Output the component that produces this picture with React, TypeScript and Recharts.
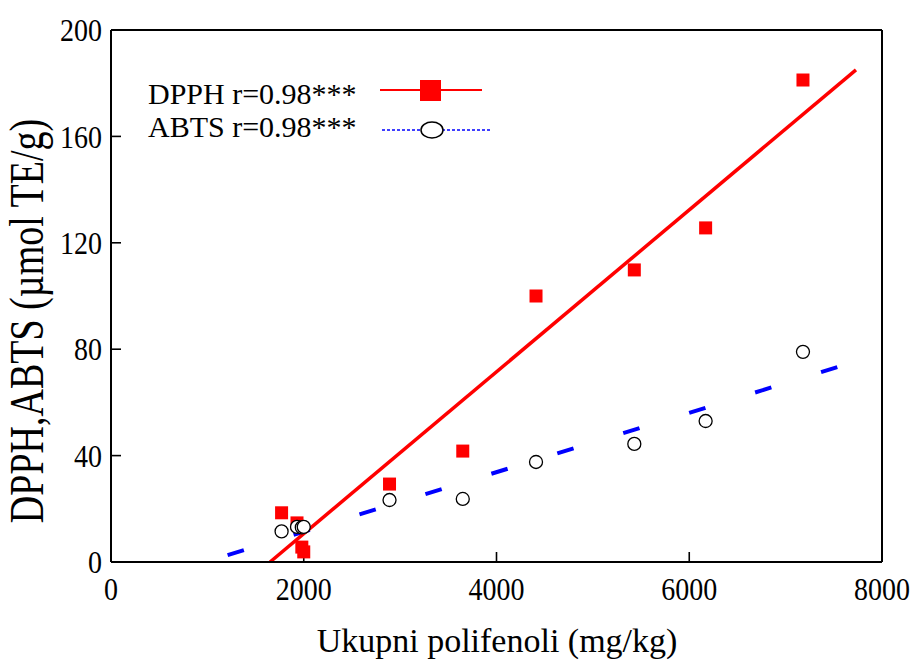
import { ComposedChart, Scatter, Line, XAxis, YAxis } from "recharts";

// sample values
const sampleX = [1770, 1930, 1980, 2000, 2890, 3650, 4410, 5430, 6170, 7180];
const dpphY = [18.5, 14.7, 5.6, 3.8, 29.3, 41.7, 100, 109.8, 125.6, 181.2];
const abtsY = [11.5, 13.2, 13.0, 13.2, 23.3, 23.7, 37.6, 44.4, 53.0, 79.0];

// regression line ends
const dpphFitX = [1650, 7730];
const dpphFitY = [0, 185];
const abtsFitX = [1210, 7540];
const abtsFitY = [2.6, 73.3];

const xMajor = [0, 2000, 4000, 6000, 8000];
const xMinor = [500, 1000, 1500, 2500, 3000, 3500, 4500, 5000, 5500, 6500, 7000, 7500];
const yMajor = [0, 40, 80, 120, 160, 200];
const yMinor = [10, 20, 30, 50, 60, 70, 90, 100, 110, 130, 140, 150, 170, 180, 190];

const FONT = "'Liberation Serif', 'Times New Roman', serif";
const RED = "#ff0000";
const BLUE = "#0000ff";

const dpphData = sampleX.map((x, i) => ({ x, y: dpphY[i] }));
const abtsData = sampleX.map((x, i) => ({ x, y: abtsY[i] }));
const dpphFit = dpphFitX.map((x, i) => ({ x, y: dpphFitY[i] }));
const abtsFit = abtsFitX.map((x, i) => ({ x, y: abtsFitY[i] }));

const Square = (p: any) => (
  <rect x={p.cx - 6.5} y={p.cy - 6.5} width={13} height={13} fill={RED} />
);
const Ring = (p: any) => (
  <circle cx={p.cx} cy={p.cy} r={6.5} fill="#fff" stroke="#000" strokeWidth={1.3} />
);

// tick labels in the original are a little taller than wide
const XTick = (p: any) => (
  <g transform={`translate(${p.x},${p.y}) scale(1,1.12)`}>
    <text textAnchor="middle" dy="0.71em" fontSize={28} fontFamily={FONT} fill="#000">
      {p.payload.value}
    </text>
  </g>
);
const YTick = (p: any) => (
  <g transform={`translate(${p.x},${p.y}) scale(1,1.12)`}>
    <text textAnchor="end" dy="0.355em" fontSize={28} fontFamily={FONT} fill="#000">
      {p.payload.value}
    </text>
  </g>
);

const axisLine = { stroke: "#000", strokeWidth: 2 };
const tickLine = { stroke: "#000", strokeWidth: 1.6 };

export default function App() {
  return (
    <div style={{ position: "absolute", left: 0, top: 0, width: 911, height: 661, background: "#fff" }}>
      <ComposedChart
        width={911}
        height={661}
        margin={{ top: 28, right: 27, bottom: 97, left: 109 }}
      >
        <XAxis
          dataKey="x"
          type="number"
          domain={[0, 8000]}
          ticks={xMajor}
          allowDataOverflow
          height={1}
          axisLine={axisLine}
          tickLine={tickLine}
          tickSize={-10}
          tickMargin={26}
          tick={XTick}
          interval={0}
        />
        <XAxis xAxisId="xMinor" type="number" domain={[0, 8000]} ticks={xMinor} allowDataOverflow
          height={1} axisLine={false} tickLine={tickLine} tickSize={-6} tick={false} interval={0} />
        <XAxis xAxisId="top" orientation="top" type="number" domain={[0, 8000]} ticks={xMajor} allowDataOverflow
          height={1} axisLine={axisLine} tickLine={tickLine} tickSize={-10} tick={false} interval={0} />
        <XAxis xAxisId="topMinor" orientation="top" type="number" domain={[0, 8000]} ticks={xMinor} allowDataOverflow
          height={1} axisLine={false} tickLine={tickLine} tickSize={-6} tick={false} interval={0} />

        <YAxis
          dataKey="y"
          type="number"
          domain={[0, 200]}
          ticks={yMajor}
          allowDataOverflow
          width={1}
          axisLine={axisLine}
          tickLine={tickLine}
          tickSize={-10}
          tickMargin={19}
          tick={YTick}
          interval={0}
        />
        <YAxis yAxisId="yMinor" type="number" domain={[0, 200]} ticks={yMinor} allowDataOverflow
          width={1} axisLine={false} tickLine={tickLine} tickSize={-6} tick={false} interval={0} />
        <YAxis yAxisId="right" orientation="right" type="number" domain={[0, 200]} ticks={yMajor} allowDataOverflow
          width={1} axisLine={axisLine} tickLine={tickLine} tickSize={-10} tick={false} interval={0} />
        <YAxis yAxisId="rightMinor" orientation="right" type="number" domain={[0, 200]} ticks={yMinor} allowDataOverflow
          width={1} axisLine={false} tickLine={tickLine} tickSize={-6} tick={false} interval={0} />

        <Scatter data={dpphData} shape={Square} isAnimationActive={false} />
        <Scatter data={abtsData} shape={Ring} isAnimationActive={false} />
        <Line data={abtsFit} dataKey="y" stroke={BLUE} strokeWidth={4} strokeDasharray="17 52"
          dot={false} activeDot={false} isAnimationActive={false} />
        <Line data={dpphFit} dataKey="y" stroke={RED} strokeWidth={3.5}
          dot={false} activeDot={false} isAnimationActive={false} />
      </ComposedChart>

      <svg width={911} height={661} style={{ position: "absolute", left: 0, top: 0, pointerEvents: "none" }}>
        <text x={497} y={652} textAnchor="middle" fontSize={34} fontFamily={FONT} fill="#000">
          Ukupni polifenoli (mg/kg)
        </text>
        <text
          transform="translate(43,321) rotate(-90) scale(1,1.3)"
          textAnchor="middle"
          fontSize={38}
          fontFamily={FONT}
          fill="#000"
        >
          DPPH,ABTS (µmol TE/g)
        </text>

        {/* legend */}
        <text x={148} y={104} fontSize={30} fontFamily={FONT} fill="#000">DPPH r=0.98***</text>
        <line x1={380} y1={90} x2={482} y2={90} stroke={RED} strokeWidth={1.8} />
        <rect x={420} y={80} width={21} height={21} fill={RED} />
        <text x={148} y={137} fontSize={30} fontFamily={FONT} fill="#000">ABTS r=0.98***</text>
        <line x1={382} y1={130} x2={490} y2={130} stroke={BLUE} strokeWidth={1.5} strokeDasharray="3 2" />
        <ellipse cx={432} cy={130} rx={11} ry={8} fill="#fff" stroke="#000" strokeWidth={1.5} />
      </svg>
    </div>
  );
}
